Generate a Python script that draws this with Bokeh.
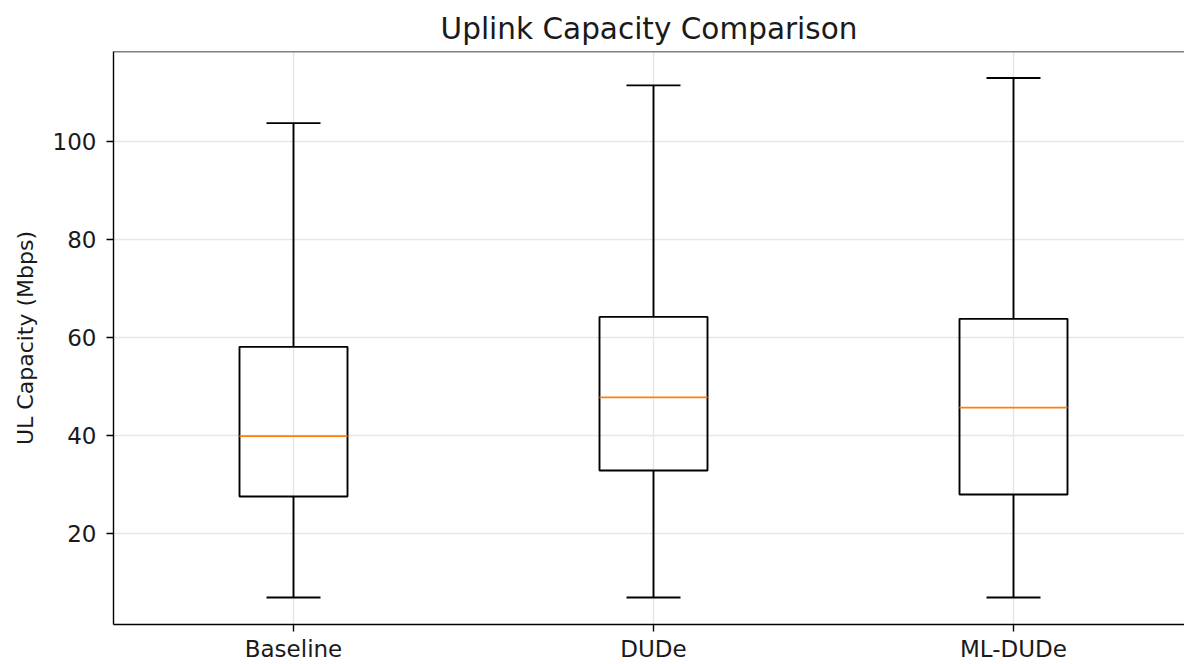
from bokeh.plotting import figure
from bokeh.models import FixedTicker, Range1d, Span
from bokeh.embed import file_html
from bokeh.resources import INLINE

categories = ["Baseline", "DUDe", "ML-DUDe"]
whisker_low = [7.0, 7.0, 7.0]
q1 = [27.6, 32.9, 28.0]
median = [39.9, 47.8, 45.7]
q3 = [58.1, 64.2, 63.8]
whisker_high = [103.7, 111.4, 112.9]
y_ticks = [20, 40, 60, 80, 100]

positions = [i + 1 for i in range(len(categories))]
box_w = 0.3
cap_w = 0.15

FONT = "DejaVu Sans"
p = figure(width=1184, height=664, output_backend="svg", toolbar_location=None,
           x_range=Range1d(0.5, 3.475), y_range=Range1d(1.5, 118.3),
           min_border_left=113, min_border_right=0, min_border_top=51, min_border_bottom=39,
           title="Uplink Capacity Comparison")
p.outline_line_color = None
p.background_fill_color = "white"
p.border_fill_color = "white"

p.title.text_font = FONT
p.title.text_font_size = "29.5px"
p.title.text_font_style = "normal"
p.title.align = "center"
p.title.standoff = 11
p.title.text_color = "#1a1a1a"

# grid
for g in (p.xgrid, p.ygrid):
    g.grid_line_color = "#e6e6e6"
    g.grid_line_width = 1.4
p.xaxis.ticker = FixedTicker(ticks=positions)
p.xaxis.major_label_overrides = {pos: c for pos, c in zip(positions, categories)}
p.yaxis.ticker = FixedTicker(ticks=y_ticks)

for ax in (p.xaxis, p.yaxis):
    ax.axis_line_color = "black"
    ax.axis_line_width = 1.4
    ax.major_tick_line_color = "black"
    ax.major_tick_line_width = 1.4
    ax.major_tick_out = 7
    ax.major_tick_in = 0
    ax.minor_tick_out = 0
    ax.minor_tick_in = 0
    ax.major_label_text_font = FONT
    ax.major_label_text_font_size = "23px"
    ax.major_label_text_color = "#1a1a1a"
p.yaxis.major_label_standoff = 10
p.xaxis.major_label_standoff = 4
p.yaxis.axis_label = "UL Capacity (Mbps)"
p.yaxis.axis_label_text_font = FONT
p.yaxis.axis_label_text_font_size = "22px"
p.yaxis.axis_label_text_font_style = "normal"
p.yaxis.axis_label_text_color = "#1a1a1a"
p.yaxis.axis_label_standoff = 12

# top border
p.add_layout(Span(location=118.3, dimension="width", line_color="black", line_width=1.6))

lw = 1.9
# whiskers
p.segment(x0=positions, y0=q3, x1=positions, y1=whisker_high, line_color="black", line_width=lw)
p.segment(x0=positions, y0=whisker_low, x1=positions, y1=q1, line_color="black", line_width=lw)
# caps
p.segment(x0=[x - cap_w / 2 for x in positions], y0=whisker_high,
          x1=[x + cap_w / 2 for x in positions], y1=whisker_high, line_color="black", line_width=lw)
p.segment(x0=[x - cap_w / 2 for x in positions], y0=whisker_low,
          x1=[x + cap_w / 2 for x in positions], y1=whisker_low, line_color="black", line_width=lw)
# boxes
p.quad(left=[x - box_w / 2 for x in positions], right=[x + box_w / 2 for x in positions],
       bottom=q1, top=q3, fill_color=None, line_color="black", line_width=lw)
# medians
p.segment(x0=[x - box_w / 2 for x in positions], y0=median,
          x1=[x + box_w / 2 for x in positions], y1=median, line_color="#ff7f0e", line_width=lw)

open("out.html", "w").write(file_html(p, INLINE))
